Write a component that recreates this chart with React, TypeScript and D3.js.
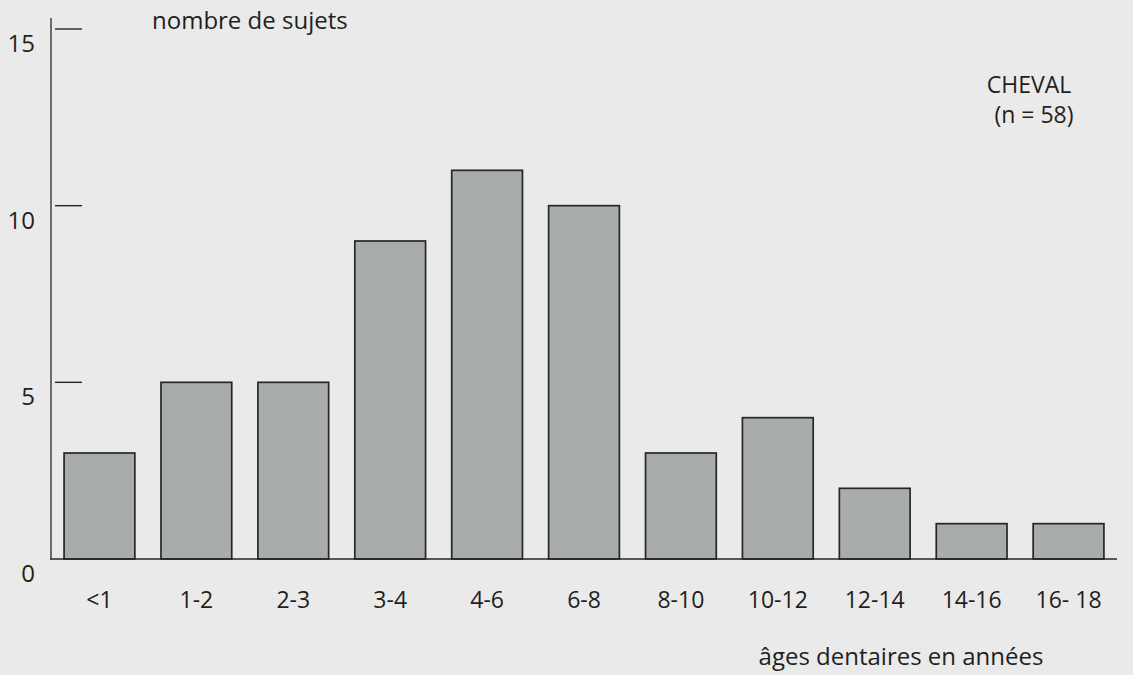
import React from "react";
import * as d3 from "d3";

const categories = ["<1", "1-2", "2-3", "3-4", "4-6", "6-8", "8-10", "10-12", "12-14", "14-16", "16- 18"];
const counts = [3, 5, 5, 9, 11, 10, 3, 4, 2, 1, 1];
const yTicks = [0, 5, 10, 15];

const W = 1133;
const H = 675;

export default function App() {
  const x = d3.scaleBand<string>().domain(categories).range([51, 1117]).paddingInner(0.27).paddingOuter(0.135);
  const y = d3.scaleLinear().domain([0, 15]).range([559, 29]);
  const font = "'Open Sans', 'Noto Sans', sans-serif";
  const textColor = "#1f1f1f";
  return (
    <svg width={W} height={H} style={{ position: "absolute", left: 0, top: 0, background: "#e9eae9" }} fontFamily={font}>
      <rect x={0} y={0} width={W} height={H} fill="#e9eae9" />
      {counts.map((v, i) => (
        <rect
          key={categories[i]}
          x={x(categories[i])}
          y={y(v)}
          width={x.bandwidth()}
          height={y(0) - y(v)}
          fill="#a9adaa"
          stroke="#262626"
          strokeWidth={1.7}
        />
      ))}
      <line x1={51} x2={51} y1={18} y2={y(0)} stroke="#262626" strokeWidth={1.3} />
      <line x1={50} x2={1117} y1={y(0)} y2={y(0)} stroke="#262626" strokeWidth={1.7} />
      {yTicks.filter((t) => t > 0).map((t) => (
        <line key={t} x1={55} x2={82} y1={y(t)} y2={y(t)} stroke="#262626" strokeWidth={1.4} />
      ))}
      {yTicks.map((t) => (
        <text key={t} x={35} y={y(t) + 23} textAnchor="end" fontSize={24} fill={textColor}>
          {t}
        </text>
      ))}
      {categories.map((c) => (
        <text key={c} x={(x(c) as number) + x.bandwidth() / 2} y={608} textAnchor="middle" fontSize={23} fill={textColor}>
          {c}
        </text>
      ))}
      <text x={152} y={29} fontSize={24} fill={textColor}>nombre de sujets</text>
      <text x={901} y={665} textAnchor="middle" fontSize={24} fill={textColor}>âges dentaires en années</text>
      <text x={1029} y={93} textAnchor="middle" fontSize={23} fill={textColor}>CHEVAL</text>
      <text x={1034} y={123} textAnchor="middle" fontSize={23} fill={textColor}>(n = 58)</text>
    </svg>
  );
}
